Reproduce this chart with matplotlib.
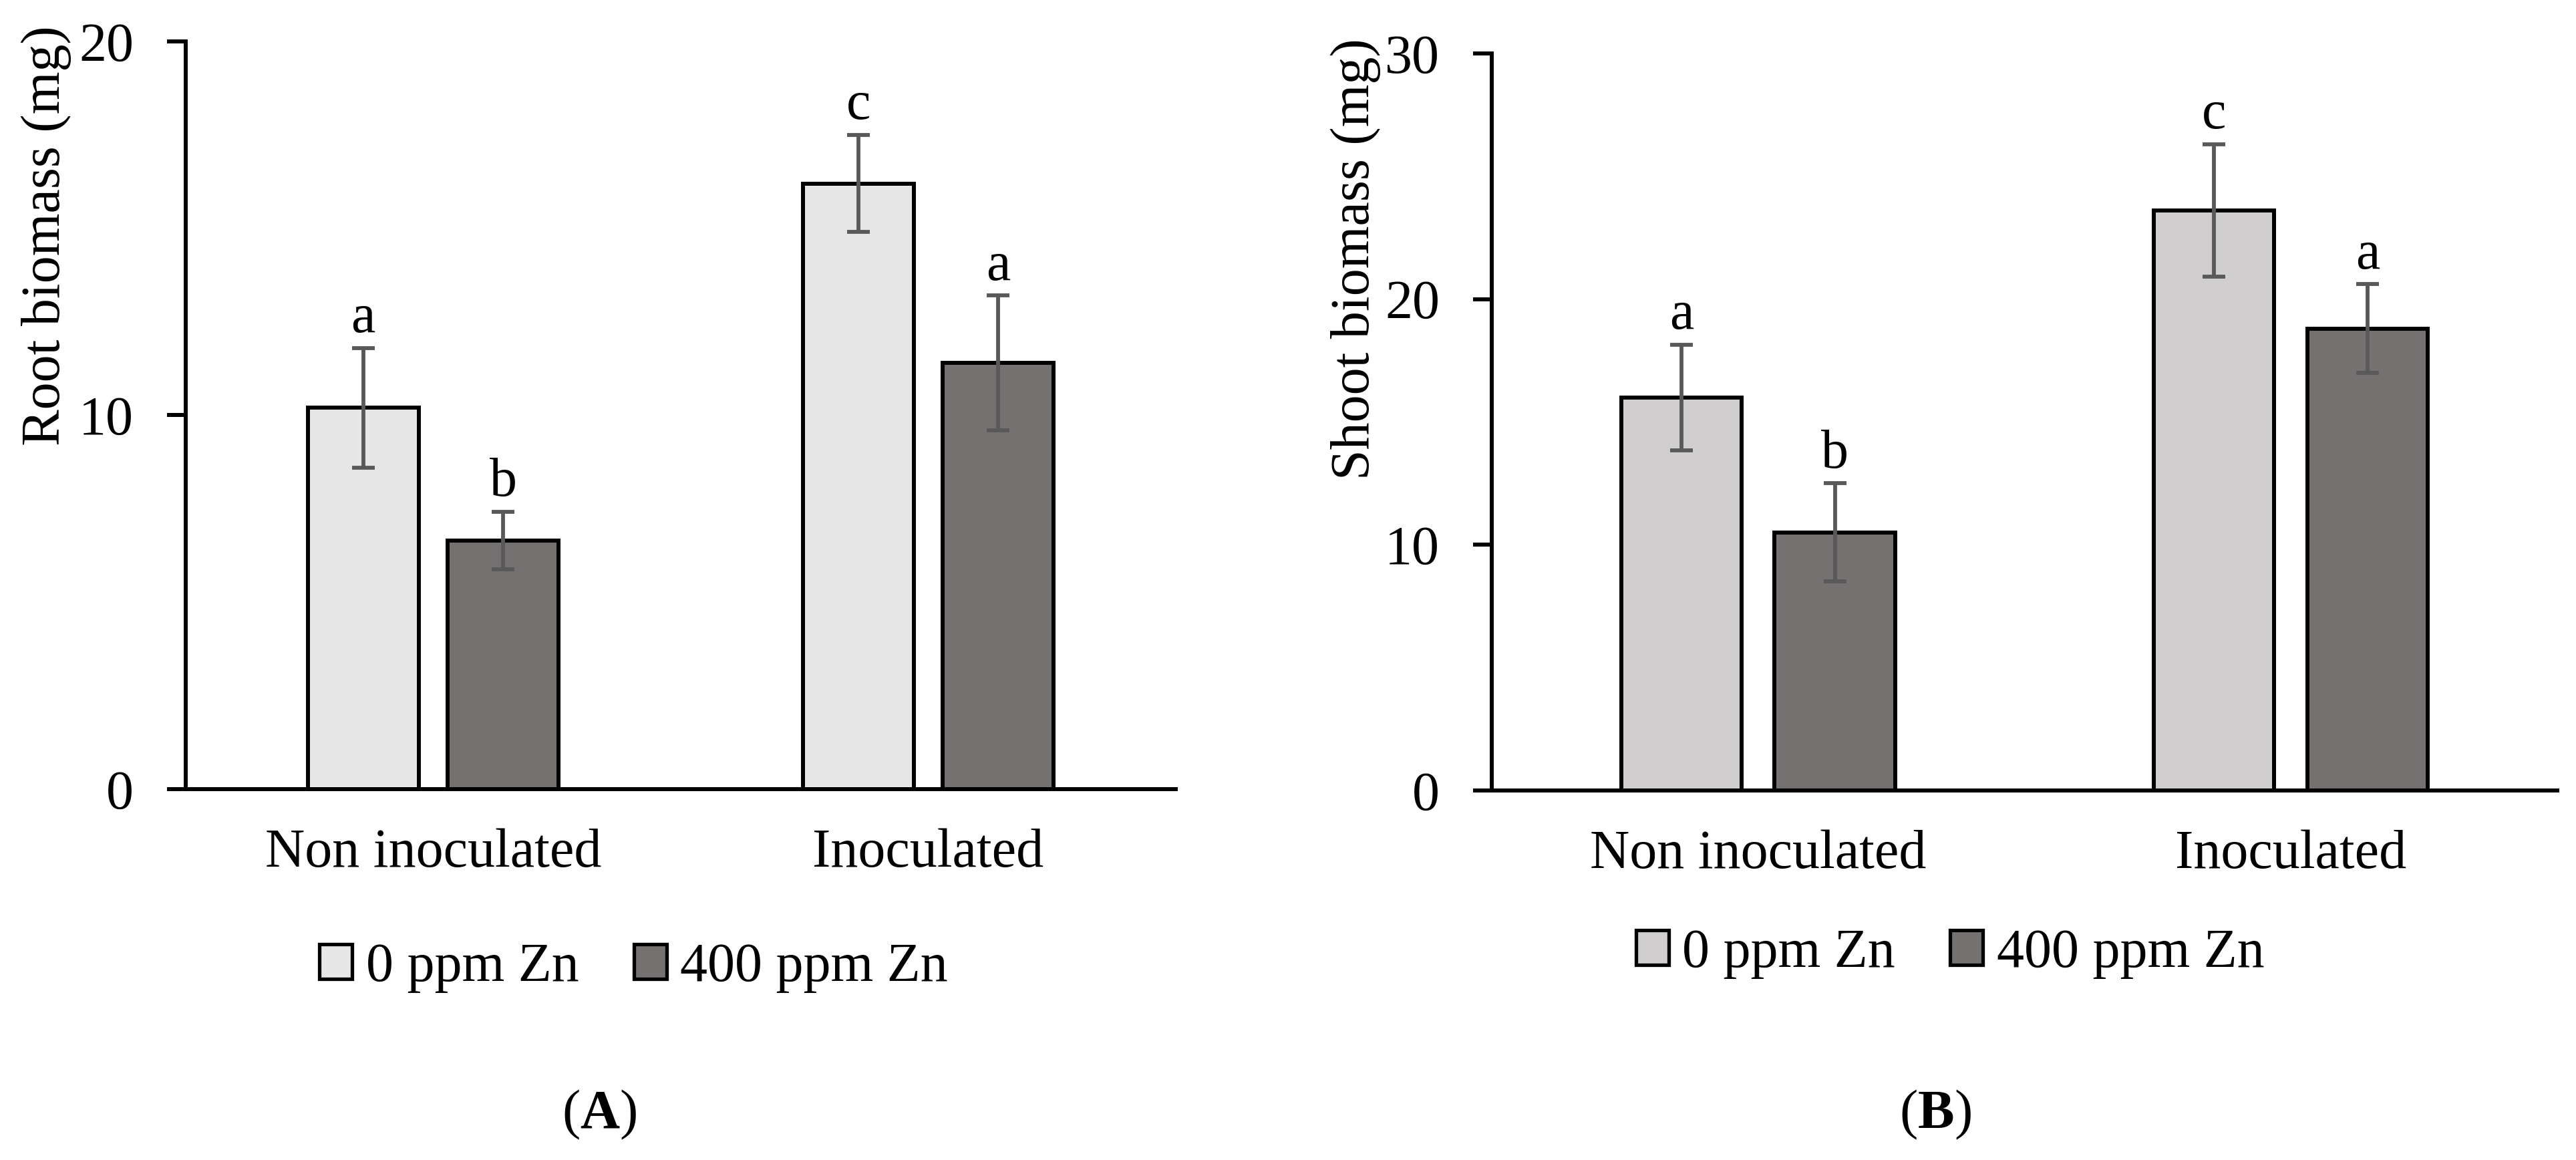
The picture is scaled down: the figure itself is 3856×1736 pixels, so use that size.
import numpy as np
import matplotlib.pyplot as plt
from matplotlib.patches import Patch

# data
groups = ['Non inoculated', 'Inoculated']
series = ['0 ppm Zn', '400 ppm Zn']

root_0 = [10.2, 16.2]
root_0_err = [1.6, 1.3]
root_400 = [6.65, 11.4]
root_400_err = [0.77, 1.8]
root_letters_0 = ['a', 'c']
root_letters_400 = ['b', 'a']

shoot_0 = [16.0, 23.6]
shoot_0_err = [2.15, 2.7]
shoot_400 = [10.5, 18.8]
shoot_400_err = [2.0, 1.8]
shoot_letters_0 = ['a', 'c']
shoot_letters_400 = ['b', 'a']

plt.rcParams['font.family'] = ['Liberation Serif', 'DejaVu Serif']
plt.rcParams['mathtext.fontset'] = 'custom'
plt.rcParams['mathtext.rm'] = 'Liberation Serif'
plt.rcParams['mathtext.bf'] = 'Liberation Serif:bold'
FS = 59
LW = 4.3

fig = plt.figure(figsize=(38.56, 17.36), dpi=100)
fig.patch.set_facecolor('white')


def panel(rect, v0, e0, v1, e1, l0, l1, c0, ymax, ylabel, lab_xy, bw, gap):
    ax = fig.add_axes(rect)
    x = np.arange(len(groups))
    off = bw / 2 + gap / 2
    for xs, vals, errs, col, lets in [(x - off, v0, e0, c0, l0),
                                      (x + off, v1, e1, '#767171', l1)]:
        ax.bar(xs, vals, width=bw, color=col, edgecolor='black', linewidth=LW, zorder=2)
        ax.errorbar(xs, vals, yerr=errs, fmt='none', ecolor='#595959',
                    elinewidth=4.2, capsize=12.5, capthick=4.2, zorder=3)
        for xi, v, e, t in zip(xs, vals, errs, lets):
            ax.annotate(t, (xi, v + e), xytext=(0, 4), textcoords='offset points',
                        ha='center', va='bottom', fontsize=FS)
    ax.set_xlim(-0.5, len(groups) - 0.5)
    ax.set_ylim(0, ymax)
    ticks = np.arange(0, ymax + 1, 10)
    ax.set_yticks(ticks)
    ax.set_yticklabels(['%d' % t for t in ticks])
    ax.set_xticks(x)
    ax.set_xticklabels(groups)
    for s in ['top', 'right']:
        ax.spines[s].set_visible(False)
    for s in ['left', 'bottom']:
        ax.spines[s].set_linewidth(LW)
    ax.tick_params(axis='y', length=20, width=LW, pad=36, labelsize=FS)
    ax.tick_params(axis='x', length=0, pad=42, labelsize=FS)
    fig.text(lab_xy[0], lab_xy[1], ylabel, rotation=90, ha='center', va='top', fontsize=FS)
    return ax


panel([0.0721, 0.3197, 0.3843, 0.6446], root_0, root_0_err, root_400, root_400_err,
      root_letters_0, root_letters_400, '#E7E6E6', 20, 'Root biomass (mg)',
      (0.018, 0.978), 0.2246, 0.058)
panel([0.5791, 0.3186, 0.4136, 0.6354], shoot_0, shoot_0_err, shoot_400, shoot_400_err,
      shoot_letters_0, shoot_letters_400, '#D0CECE', 30, 'Shoot biomass (mg)',
      (0.5262, 0.967), 0.226, 0.062)

# legends
for cx, cy, c0 in [(0.246, 0.1659, '#E7E6E6'), (0.757, 0.1777, '#D0CECE')]:
    hs = [Patch(facecolor=c0, edgecolor='black', linewidth=3.8),
          Patch(facecolor='#767171', edgecolor='black', linewidth=3.8)]
    fig.legend(hs, series, loc='center', bbox_to_anchor=(cx, cy), ncol=2, frameon=False,
               fontsize=FS, handlelength=0.6, handleheight=0.6, handletextpad=0.25,
               columnspacing=1.0, borderpad=0)

# panel tags
fig.text(897 / 3856, 1 - 1688 / 1736, r'($\mathbf{A}$)', ha='center', va='baseline', fontsize=FS)
fig.text(2897 / 3856, 1 - 1688 / 1736, r'($\mathbf{B}$)', ha='center', va='baseline', fontsize=FS)

fig.savefig('out.png', dpi=100)
